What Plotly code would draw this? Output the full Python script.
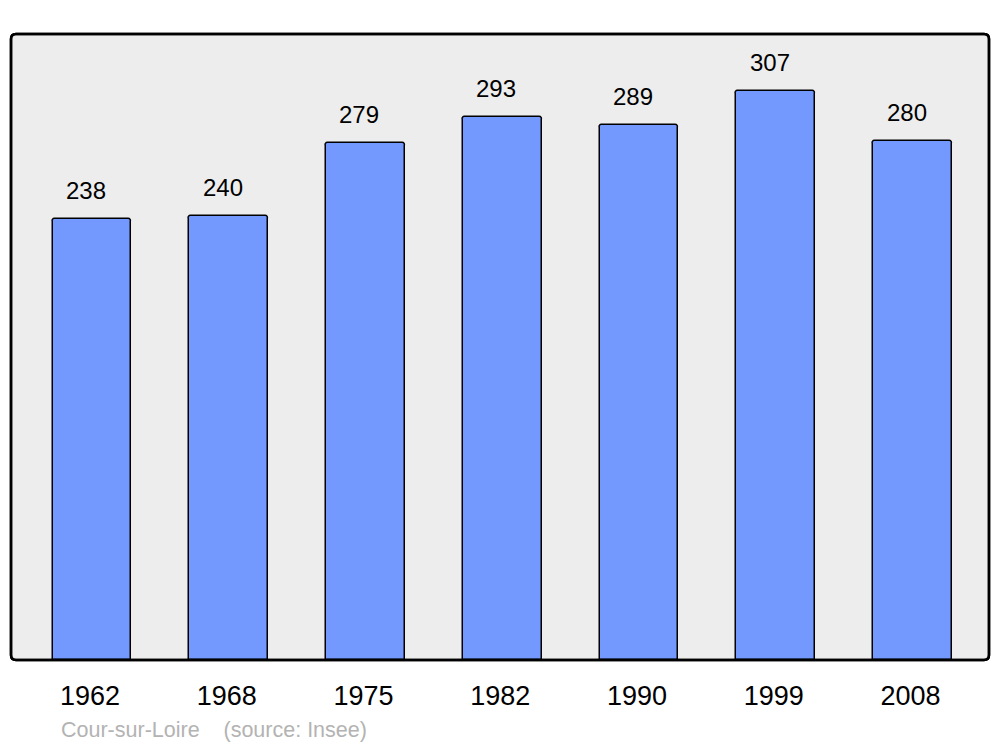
import plotly.graph_objects as go

years = ["1962", "1968", "1975", "1982", "1990", "1999", "2008"]
population = [238, 240, 279, 293, 289, 307, 280]
caption = "Cour-sur-Loire    (source: Insee)"

# page body has an 8px margin; figure sized to fit the viewport
OFF = 8
W, H = 1000 - OFF, 747 - OFF
L, T = 11 - OFF, 34 - OFF
R, B = W - (989 - OFF), H - (660 - OFF)
pw, ph = W - L - R, H - T - B

xs = list(range(len(years)))
FONT = "Liberation Sans, Arial, sans-serif"
TICK_NUDGE = -0.015  # tick labels sit a touch left of bar centres

fig = go.Figure()
fig.add_trace(go.Bar(
    x=xs, y=population, width=0.575,
    marker=dict(color="#7399ff", line=dict(color="#000000", width=1.5), cornerradius=3),
    hoverinfo="skip",
))

for x, v in zip(xs, population):
    fig.add_annotation(x=x, y=v, text=str(v), showarrow=False, xref="x", yref="y",
                       yanchor="bottom", yshift=13, xshift=-6,
                       font=dict(family=FONT, size=24, color="#000000"))

# rounded frame
rx, ry = 5 / pw, 5 / ph
path = (f"M {rx},0 L {1-rx},0 Q 1,0 1,{ry} L 1,{1-ry} Q 1,1 {1-rx},1 "
        f"L {rx},1 Q 0,1 0,{1-ry} L 0,{ry} Q 0,0 {rx},0 Z")
fig.add_shape(type="path", path=path, xref="paper", yref="paper",
              line=dict(color="#000000", width=2.5), fillcolor="#ededed", layer="below")
fig.add_shape(type="path", path=path, xref="paper", yref="paper",
              line=dict(color="#000000", width=2.5), fillcolor="rgba(0,0,0,0)", layer="above")

fig.add_annotation(x=(59 - OFF - L) / pw, y=1 - (730 - OFF - T) / ph, xref="paper", yref="paper",
                   text=caption, showarrow=False, xanchor="left", yanchor="middle",
                   font=dict(family=FONT, size=21.5, color="#b3b3b3"))

fig.update_layout(
    width=W, height=H,
    margin=dict(l=L, r=R, t=T, b=B, pad=0),
    paper_bgcolor="#ffffff", plot_bgcolor="rgba(0,0,0,0)",
    showlegend=False,
    bargap=0,
    xaxis=dict(range=[-0.592, 6.559], tickvals=[x + TICK_NUDGE for x in xs], ticktext=years,
               showgrid=False, zeroline=False, showline=False, ticks="", ticklabelstandoff=17,
               tickfont=dict(family=FONT, size=27, color="#000000"),
               fixedrange=True),
    yaxis=dict(range=[0, 338], showgrid=False, zeroline=False, showline=False,
               showticklabels=False, ticks="", fixedrange=True),
)

fig.write_html("out.html")
